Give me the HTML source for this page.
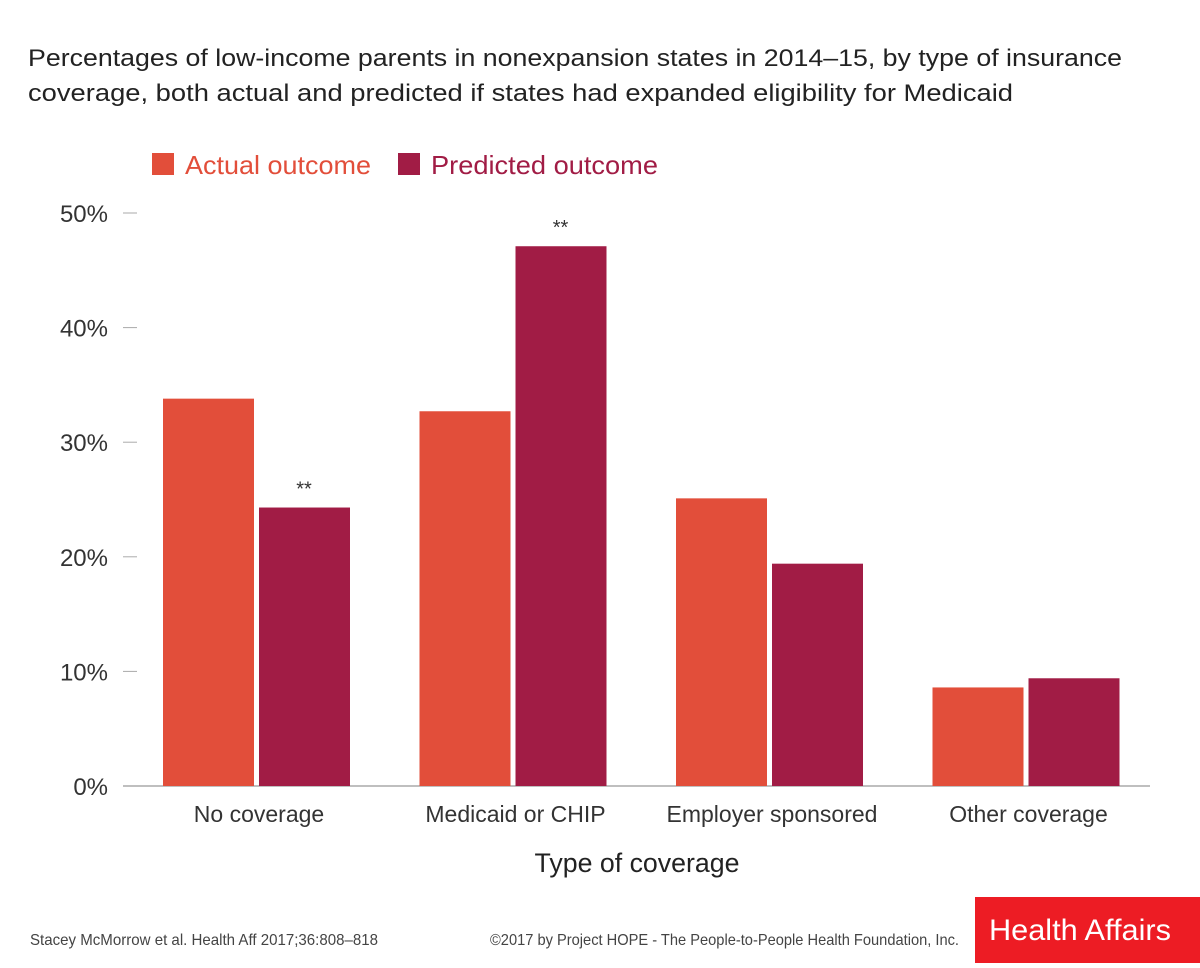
<!DOCTYPE html>
<html><head><meta charset="utf-8"><style>
body{margin:0;background:#fff;}
svg text{font-family:"Liberation Sans",sans-serif;}
</style></head><body>
<svg width="1200" height="963" viewBox="0 0 1200 963" id="chart">
<text x="28" y="66" font-size="24.5" fill="#222" textLength="1094" lengthAdjust="spacingAndGlyphs">Percentages of low-income parents in nonexpansion states in 2014–15, by type of insurance</text>
<text x="28" y="101" font-size="24.5" fill="#222" textLength="985" lengthAdjust="spacingAndGlyphs">coverage, both actual and predicted if states had expanded eligibility for Medicaid</text>
<g>
<rect x="152" y="153" width="22" height="22" fill="#e24e3a"/>
<text x="185" y="174" font-size="26" fill="#e24e3a" textLength="186" lengthAdjust="spacingAndGlyphs">Actual outcome</text>
<rect x="398" y="153" width="22" height="22" fill="#a11c45"/>
<text x="431" y="174" font-size="26" fill="#a11c45" textLength="227" lengthAdjust="spacingAndGlyphs">Predicted outcome</text>
</g>
<g id="axes"></g>
<g id="bars"></g>
<text x="637" y="872" font-size="27" fill="#222" text-anchor="middle" textLength="205" lengthAdjust="spacingAndGlyphs">Type of coverage</text>
<text x="30" y="945" font-size="16" fill="#444" textLength="348" lengthAdjust="spacingAndGlyphs">Stacey McMorrow et al. Health Aff 2017;36:808–818</text>
<text x="490" y="945" font-size="16" fill="#444" textLength="469" lengthAdjust="spacingAndGlyphs">©2017 by Project HOPE - The People-to-People Health Foundation, Inc.</text>
<rect x="975" y="897" width="225" height="66" fill="#ed1c24"/>
<text x="989" y="940" font-size="30" fill="#fff" textLength="182" lengthAdjust="spacingAndGlyphs">Health Affairs</text>
</svg>
<script>
const categories=["No coverage","Medicaid or CHIP","Employer sponsored","Other coverage"];
const actual=[33.8,32.7,25.1,8.6];
const predicted=[24.3,47.1,19.4,9.4];
const predSignificant=[true,true,false,false];
const yTicks=[0,10,20,30,40,50];
const NS="http://www.w3.org/2000/svg";
const y0=786,yPer=11.46;
const y=v=>y0-v*yPer;
const x=i=>259+i*256.5;
const axes=document.getElementById('axes'),bars=document.getElementById('bars');
function mk(t,a,p){const e=document.createElementNS(NS,t);for(const k in a)e.setAttribute(k,a[k]);p.appendChild(e);return e;}
yTicks.forEach(t=>{
 if(t>0){const l=mk('line',{x1:123,x2:137,y1:y(t),y2:y(t),stroke:'#aaa','stroke-width':1},axes);
 
 }
 const tx=mk('text',{x:108,y:y(t)+9,'font-size':24,fill:'#333','text-anchor':'end'},axes);
 tx.textContent=t+'%';
 
 
});
const base=mk('line',{x1:123,x2:1150,y1:y0,y2:y0,stroke:'#aaa','stroke-width':1.5},axes);


categories.forEach((c,i)=>{
 const cx=x(i);
 const a=mk('rect',{x:cx-96,y:y(actual[i]),width:91,height:actual[i]*yPer,fill:'#e24e3a'},bars);
 
 
 const p=mk('rect',{x:cx,y:y(predicted[i]),width:91,height:predicted[i]*yPer,fill:'#a11c45'},bars);
 
 
 if(predSignificant[i]){const s=mk('text',{x:cx+45,y:y(predicted[i])-12,'font-size':20,fill:'#333','text-anchor':'middle'},bars);
 s.textContent='**';
 
 }
 const l=mk('text',{x:cx,y:822,'font-size':23,fill:'#333','text-anchor':'middle'},bars);
 l.textContent=c;
 
 
});
</script>
</body></html>
